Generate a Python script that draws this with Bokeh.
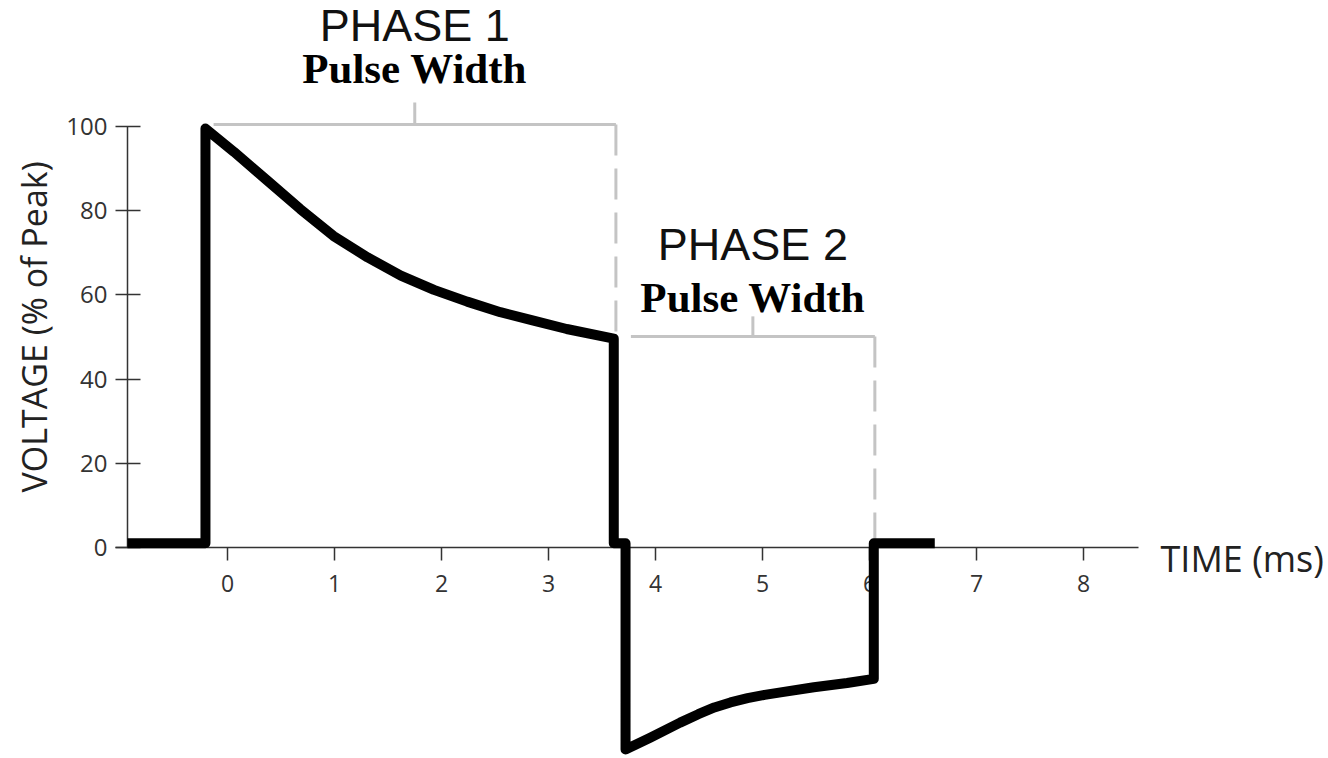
import math
from bokeh.plotting import figure
from bokeh.models import Range1d, LinearAxis, FixedTicker
from bokeh.core.properties import value
from bokeh.embed import file_html
from bokeh.resources import INLINE

# ---- data ----
wave_t = [-0.935, -0.206, -0.206, 0.06, 0.37, 0.68, 0.99, 1.31, 1.62, 1.93, 2.24,
          2.55, 2.86, 3.17, 3.61, 3.61, 3.72, 3.72, 3.95, 4.23, 4.40, 4.55, 4.70,
          4.86, 5.02, 5.17, 5.48, 5.79, 6.04, 6.04, 6.61]
wave_v = [1, 1, 99.5, 94.0, 87.2, 80.4, 74.0, 68.9, 64.6, 61.2, 58.4,
          55.9, 53.9, 51.9, 49.6, 1, 1, -48, -45.2, -41.6, -39.6, -38.0, -36.8,
          -35.8, -35.0, -34.4, -33.2, -32.2, -31.2, 1, 1]

x_ticks = [0, 1, 2, 3, 4, 5, 6, 7, 8]
y_ticks = [0, 20, 40, 60, 80, 100]

phase_names = ["PHASE 1", "PHASE 2"]
phase_sub = ["Pulse Width", "Pulse Width"]
phase_start = [-0.13, 3.77]
phase_end = [3.63, 6.05]
phase_level = [100.5, 50.1]
phase_tick_top = [105.7, 54.9]

x_title = "TIME (ms)"
y_title = "VOLTAGE (% of Peak)"

# ---- figure ----
p = figure(width=1328, height=758, output_backend="svg", toolbar_location=None,
           x_range=Range1d(-2.1215, 10.2897), y_range=Range1d(-50.12, 129.93),
           x_axis_type=None, y_axis_type=None, min_border=0)
p.grid.visible = False
p.outline_line_color = None
p.background_fill_color = "white"

axis_color = "#333333"
xaxis = LinearAxis(fixed_location=0, bounds=(-1.05, 8.51),
                   ticker=FixedTicker(ticks=x_ticks))
xaxis.axis_line_color = axis_color
xaxis.axis_line_width = 1.5
xaxis.major_tick_line_color = axis_color
xaxis.major_tick_line_width = 1.5
xaxis.major_tick_in = 0
xaxis.major_tick_out = 13
xaxis.minor_tick_line_color = None
xaxis.major_label_text_font = "Open Sans"
xaxis.major_label_text_font_size = "23px"
xaxis.major_label_text_color = axis_color
xaxis.major_label_standoff = 15
xaxis.level = "underlay"
p.add_layout(xaxis, "below")

yaxis = LinearAxis(fixed_location=-0.935, bounds=(0, 100),
                   ticker=FixedTicker(ticks=y_ticks))
yaxis.axis_line_color = axis_color
yaxis.axis_line_width = 1.5
yaxis.major_tick_line_color = axis_color
yaxis.major_tick_line_width = 1.5
yaxis.major_tick_in = 13
yaxis.major_tick_out = 12
yaxis.minor_tick_line_color = None
yaxis.major_label_text_font = "Open Sans"
yaxis.major_label_text_font_size = "24px"
yaxis.major_label_text_color = axis_color
yaxis.major_label_standoff = 8
yaxis.level = "underlay"
p.add_layout(yaxis, "left")

# ---- brackets ----
gray = "#c4c4c4"
for s, e, lv, tt in zip(phase_start, phase_end, phase_level, phase_tick_top):
    p.line([s, e], [lv, lv], line_color=gray, line_width=3)
    mid = (s + e) / 2
    p.line([mid, mid], [lv, tt], line_color=gray, line_width=3)
    p.line([e, e], [lv, 0], line_color=gray, line_width=3, line_dash="31 13")

# ---- waveform ----
p.line(wave_t, wave_v, line_color="black", line_width=10, line_join="round")

# ---- texts ----
mids = [(s + e) / 2 for s, e in zip(phase_start, phase_end)]
p.text(x=mids, y=[124.0, 71.9], text=phase_names, text_font=value("Liberation Sans"),
       text_font_size="45px", text_align="center", text_baseline="alphabetic",
       text_color="#111111")
p.text(x=mids, y=[113.8, 59.3], text=phase_sub, text_font=value("Liberation Serif"),
       text_font_style="bold", text_font_size="43px", text_align="center",
       text_baseline="alphabetic", text_color="black")
p.text(x=[8.72], y=[-2.6], text=[x_title], text_font=value("Open Sans"),
       text_font_size="36px", text_align="left", text_baseline="alphabetic",
       text_color="#222222")
p.text(x=[-1.804], y=[52.4], text=[y_title], text_font=value("Open Sans"),
       text_font_size="34px", text_align="center", text_baseline="alphabetic",
       angle=math.pi / 2, text_color="#222222")

open("out.html", "w").write(file_html(p, INLINE))
